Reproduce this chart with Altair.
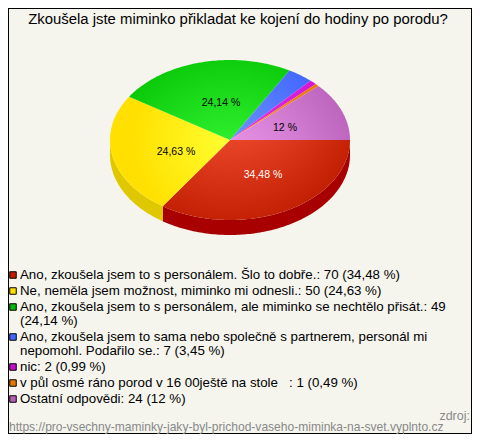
import math
import altair as alt
import pandas as pd

title = "Zkoušela jste miminko přikladat ke kojení do hodiny po porodu?"
counts = [70, 50, 49, 7, 2, 1, 24]
slice_labels = ["34,48 %", "24,63 %", "24,14 %", "", "", "", "12 %"]
label_colors = ["#ffffff", "#000000", "#000000", "#000000", "#000000", "#000000", "#000000"]
label_x = [263, 176, 221, 0, 0, 0, 285]
label_y = [175, 152, 103, 0, 0, 0, 128]
inner_colors = ["#ff5c3e", "#ffff30", "#3eff3e", "#6c94ff", "#e838f0", "#ff9a28", "#f09cf0"]
outer_colors = ["#c01c00", "#ffe000", "#08c808", "#4468ff", "#d414d4", "#e87800", "#b860b8"]
wall_colors = ["#a80000", "#e0c800"]
swatch_colors = ["#c01c00", "#ffe000", "#08b808", "#4468ff", "#c810c8", "#e87800", "#b860b8"]
legend_rows = [
    "Ano, zkoušela jsem to s personálem. Šlo to dobře.: 70 (34,48 %)",
    "Ne, neměla jsem možnost, miminko mi odnesli.: 50 (24,63 %)",
    "Ano, zkoušela jsem to s personálem, ale miminko se nechtělo přisát.: 49",
    "(24,14 %)",
    "Ano, zkoušela jsem to sama nebo společně s partnerem, personál mi",
    "nepomohl. Podařilo se.: 7 (3,45 %)",
    "nic: 2 (0,99 %)",
    "v půl osmé ráno porod v 16 00ještě na stole\u00a0\u00a0\u00a0: 1 (0,49 %)",
    "Ostatní odpovědi: 24 (12 %)",
]
legend_y = [275, 291, 307, 321, 337, 351, 367, 383, 399]
swatch_y = [275, 291, 307, 337, 367, 383, 399]
source_top = "zdroj:"
source_url = "https://pro-vsechny-maminky-jaky-byl-prichod-vaseho-miminka-na-svet.vyplnto.cz"

BG = "#f5f5ee"
CX, CY, RX, RY, DEPTH = 230, 140, 120, 80, 15
x_scale = alt.Scale(domain=[8, 472], range=[0, 464])
y_scale = alt.Scale(domain=[8, 434], range=[0, 426])
X = lambda f="x": alt.X(f"{f}:Q", scale=x_scale, axis=None)
Y = lambda f="y": alt.Y(f"{f}:Q", scale=y_scale, axis=None)


def pt(a, d=0):
    r = math.radians(a)
    return CX + RX * math.cos(r), CY + RY * math.sin(r) + d


def arc(a0, a1):
    n = max(2, int(abs(a1 - a0)) + 2)
    return [a0 + (a1 - a0) * i / (n - 1) for i in range(n)]


def polygon(points, fill):
    df = pd.DataFrame({"i": range(len(points)), "x": [p[0] for p in points], "y": [p[1] for p in points]})
    return alt.Chart(df).mark_line(fill=fill, strokeWidth=0, interpolate="linear").encode(
        x=X(), y=Y(), order="i:Q"
    )


total = sum(counts)
angles = [0]
for c in counts:
    angles.append(angles[-1] + 360 * c / total)

layers = []
# side walls
layers.append(polygon([pt(a) for a in arc(0, angles[1])] + [pt(a, DEPTH) for a in arc(angles[1], 0)], wall_colors[0]))
layers.append(polygon([pt(a) for a in arc(angles[1], 180)] + [pt(a, DEPTH) for a in arc(180, angles[1])], wall_colors[1]))
# top faces
for k in range(len(counts)):
    pts = [(CX, CY)] + [pt(a) for a in arc(angles[k], angles[k + 1])]
    xs = [p[0] for p in pts]
    ys = [p[1] for p in pts]
    w, h = max(xs) - min(xs), max(ys) - min(ys)
    fx, fy = (CX - min(xs)) / w, (CY - min(ys)) / h
    grad = alt.RadialGradient(
        gradient="radial",
        stops=[alt.GradientStop(offset=0, color=inner_colors[k]), alt.GradientStop(offset=1, color=outer_colors[k])],
        x1=fx, y1=fy, r1=0, x2=fx, y2=fy, r2=0.95 * (RX / w + RY / h) / 2,
    )
    layers.append(polygon(pts, grad))

# slice labels
lab = pd.DataFrame({"t": slice_labels, "x": label_x, "y": label_y, "c": label_colors})
lab = lab[lab.t != ""]
layers.append(alt.Chart(lab).mark_text(font="Liberation Sans", fontSize=10.5).encode(
    x=X(), y=Y(), text="t:N", color=alt.Color("c:N", scale=None)))

# title
layers.append(alt.Chart(pd.DataFrame({"t": [title], "x": [238], "y": [20]})).mark_text(
    font="Liberation Sans", fontSize=14.9, color="#000000").encode(x=X(), y=Y(), text="t:N"))

# legend
leg = pd.DataFrame({"t": legend_rows, "x": [20] * len(legend_rows), "y": legend_y})
layers.append(alt.Chart(leg).mark_text(
    font="Liberation Sans", fontSize=13.3, align="left", color="#000000").encode(x=X(), y=Y(), text="t:N"))
sw = pd.DataFrame({"x": [13] * len(swatch_y), "y": swatch_y, "c": swatch_colors})
layers.append(alt.Chart(sw).mark_square(size=42, filled=True, stroke="#000000", strokeWidth=1, opacity=1).encode(
    x=X(), y=Y(), fill=alt.Fill("c:N", scale=None)))

# source
layers.append(alt.Chart(pd.DataFrame({"t": [source_top], "x": [470], "y": [416]})).mark_text(
    font="Liberation Sans", fontSize=12.5, align="right", color="#888888").encode(x=X(), y=Y(), text="t:N"))
layers.append(alt.Chart(pd.DataFrame({"t": [source_url], "x": [9], "y": [427]})).mark_text(
    font="Liberation Sans", fontSize=12.05, align="left", color="#888888").encode(x=X(), y=Y(), text="t:N"))

chart = alt.layer(*layers).properties(
    width=464, height=426, padding=0, background=BG,
    autosize=alt.AutoSizeParams(type="none"),
).configure_view(stroke="#000000", strokeWidth=2)

chart.save("out.html", embed_options={"renderer": "svg", "actions": False})
